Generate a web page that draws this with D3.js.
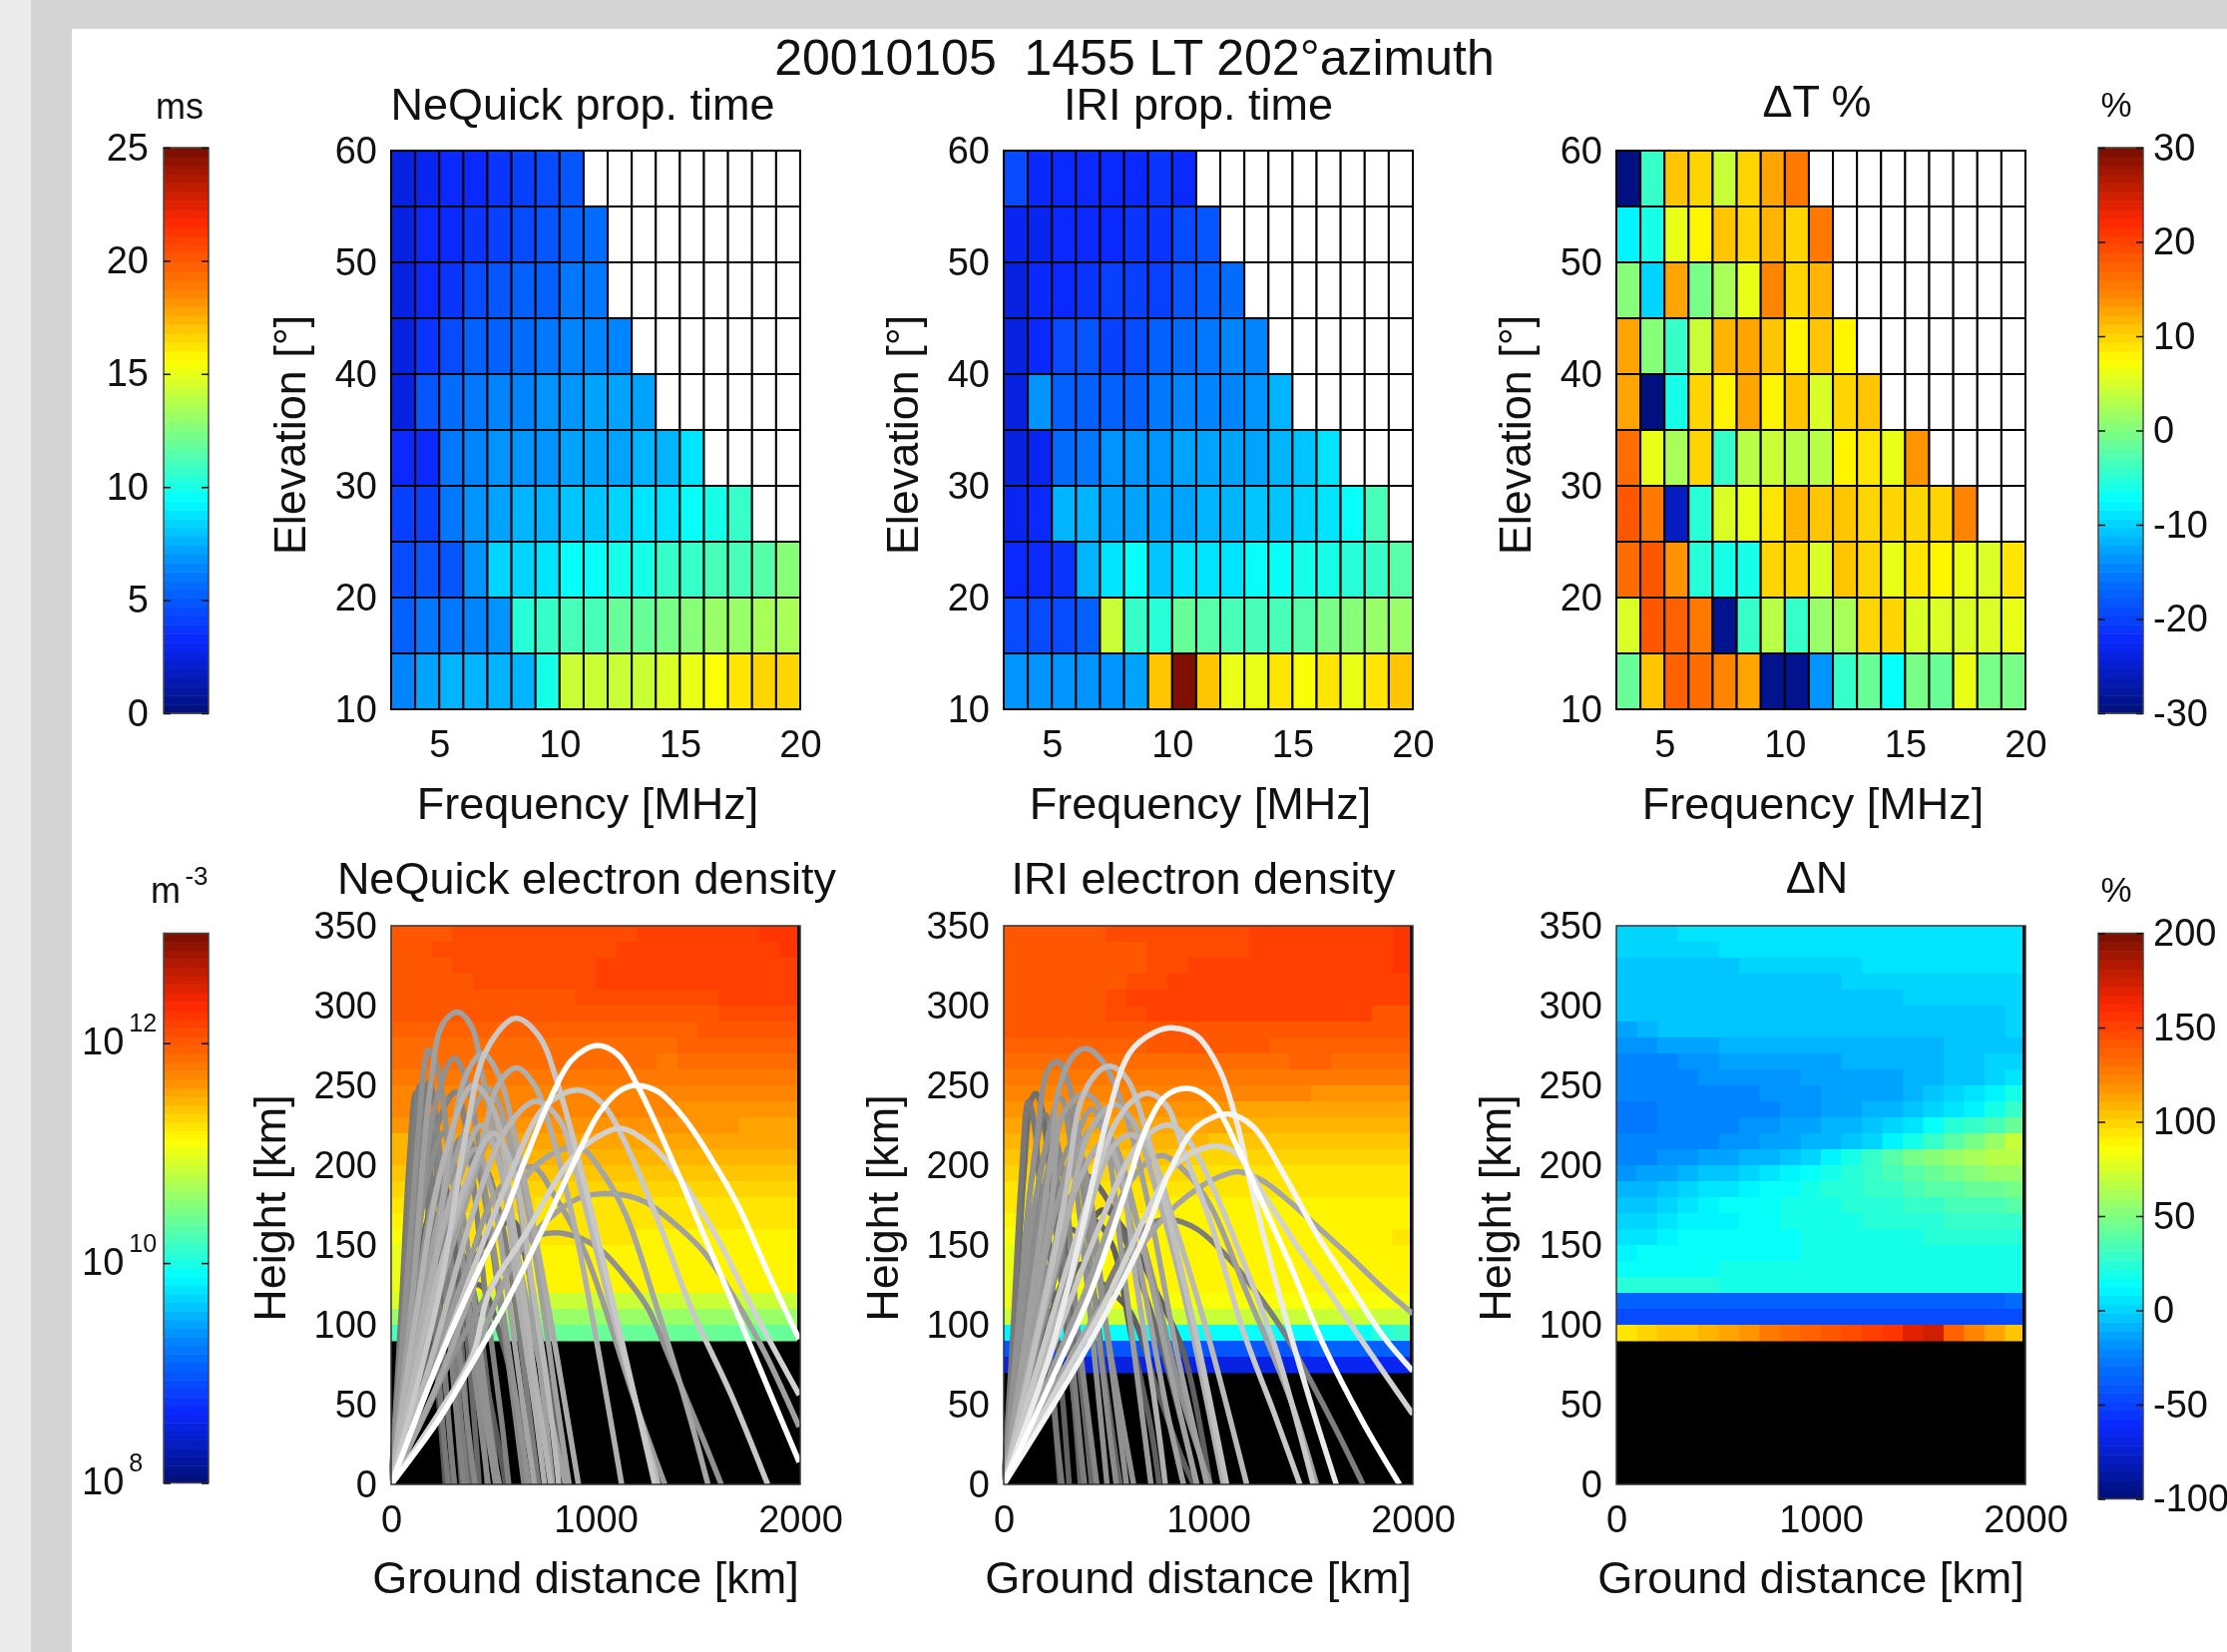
<!DOCTYPE html>
<html>
<head>
<meta charset="utf-8">
<script src="https://d3js.org/d3.v7.min.js"></script>
<style>
  html, body { margin: 0; padding: 0; background: #fff; }
  svg { display: block; filter: blur(0.6px); }
  text { font-family: "Liberation Sans", Arial, sans-serif; fill: #111; }
  .domain { display: none; }
  .tick line { stroke: #111; stroke-width: 1.5; }
</style>
</head>
<body>
<div id="chart"></div>
<script>
// Axes
var freqTicks = [5, 10, 15, 20];
var elevTicks = [10, 20, 30, 40, 50, 60];
var distTicks = [0, 1000, 2000];
var heightTicks = [0, 50, 100, 150, 200, 250, 300, 350];
var freqEdges = [3, 20];
var elevEdges = [10, 60];

// Propagation time [ms], one row per 5 deg elevation from 60 down to 10, one cell per MHz from 3
var nqTime = [
  [2.6, 2.9, 3.3, 3.3, 3.7, 4.0, 4.3, 4.8],
  [2.7, 3.2, 3.5, 3.9, 4.2, 4.5, 4.8, 5.4, 5.7],
  [2.6, 3.4, 3.9, 4.5, 4.8, 5.1, 5.4, 5.9, 6.0],
  [2.7, 3.9, 4.5, 5.1, 5.4, 5.7, 6.0, 6.3, 6.4, 6.5],
  [2.7, 4.7, 5.7, 5.9, 6.3, 6.5, 6.7, 6.9, 7.1, 7.2, 7.4],
  [3.4, 3.5, 6.0, 6.5, 6.7, 6.9, 6.9, 7.1, 7.2, 7.4, 7.6, 7.8, 8.6],
  [4.1, 4.1, 6.1, 7.0, 7.3, 7.6, 7.8, 8.0, 8.2, 8.4, 8.6, 8.8, 9.4, 9.9, 10.9],
  [4.6, 4.7, 4.8, 7.0, 8.5, 8.4, 8.7, 9.4, 9.4, 9.8, 10.1, 10.6, 10.8, 11.0, 11.1, 11.7, 12.5],
  [5.1, 6.0, 6.0, 6.3, 6.9, 10.4, 10.9, 11.2, 11.3, 11.8, 12.0, 12.2, 12.7, 13.0, 13.2, 13.4, 13.6],
  [6.3, 7.2, 7.6, 7.8, 7.8, 7.6, 9.9, 14.2, 14.2, 14.4, 14.4, 14.6, 14.9, 15.6, 16.3, 16.5, 16.5]
];
var iriTime = [
  [4.3, 3.2, 3.2, 3.3, 3.5, 3.5, 3.6, 3.5],
  [2.8, 3.1, 3.2, 3.4, 3.5, 3.7, 3.7, 4.5, 4.7],
  [2.4, 3.3, 3.2, 3.9, 4.2, 4.2, 4.1, 4.9, 5.1, 5.7],
  [2.4, 3.5, 4.5, 4.8, 4.2, 4.5, 5.1, 5.7, 6.0, 6.3, 6.5],
  [2.7, 6.7, 5.4, 5.4, 5.4, 5.4, 6.0, 6.3, 6.5, 6.5, 6.7, 7.6],
  [2.7, 3.1, 5.7, 6.0, 6.7, 6.7, 6.9, 7.1, 7.1, 7.2, 7.4, 7.8, 8.0, 8.8],
  [3.1, 3.2, 7.7, 7.7, 7.1, 7.2, 7.2, 7.2, 7.6, 7.8, 8.0, 8.2, 8.4, 8.6, 9.4, 11.2],
  [3.5, 3.5, 3.8, 7.7, 8.8, 9.4, 8.2, 8.6, 8.8, 8.8, 9.4, 9.7, 9.9, 10.1, 10.4, 10.9, 11.5],
  [4.5, 4.5, 4.5, 5.1, 14.2, 10.9, 10.4, 11.8, 11.5, 11.2, 11.1, 11.3, 11.6, 12.2, 12.6, 13.0, 13.0],
  [6.7, 6.7, 6.7, 6.9, 6.9, 7.1, 16.8, 25.0, 17.0, 14.9, 14.9, 16.3, 15.6, 16.3, 14.9, 16.3, 16.8]
];
var deltaTime = [
  [-30, -3.8, 11.2, 9.6, 4.2, 9.6, 12.5, 15],
  [-8, -6.5, 6, 7.5, 10.8, 9.6, 11.7, 10, 15],
  [0.9, -9.5, 12.5, -0.5, 2, 6, 14.5, 10, 12],
  [12.5, 0.2, -3.8, 4.2, 12, 12.5, 10.8, 7.5, 10.8, 7.5],
  [12.5, -30, -6.5, 9.6, 7.5, 12.5, 7.5, 11.2, 5, 9.6, 10.8],
  [16, 6.5, 2, 9.6, -3.8, 3.5, 4.2, 3, 3, 7.5, 9.3, 6.5, 13.5],
  [18, 15, -26, -5.3, 5.5, 6, 9.2, 11.7, 11.2, 11.2, 9.6, 9.6, 9.6, 9.6, 14.5],
  [16, 18, 13.5, -5, -6.5, -6.5, 9.6, 10, 5.5, 10.8, 10, 6, 9.3, 7.5, 6, 5.5, 8.5],
  [5, 18.5, 17, 15, -29, -3.8, 3.5, -3.8, 1, 2, 9.6, 10, 5.5, 5.5, 5.5, 5.5, 6.5],
  [-1, 11.2, 17, 16, 14.5, 12.5, -29, -29, -13.5, -3.8, -1.5, -7.5, -0.5, -1, 6.5, -0.5, -0.5]
];

// log10 electron density, one row per 10 km from 350 down, one cell per 100 km.
// Rows stop at the lowest height with data, the rest of the panel is black.
var nqDensity = [
  [12.02,12.02,12.02,12.10,12.10,12.10,12.10,12.10,12.10,12.10,12.10,12.10,12.18,12.18,12.18,12.18,12.18,12.18,12.25,12.25],
  [12.02,12.02,12.10,12.10,12.10,12.10,12.10,12.10,12.10,12.10,12.10,12.18,12.18,12.18,12.18,12.18,12.18,12.18,12.18,12.25],
  [12.02,12.02,12.02,12.10,12.10,12.10,12.10,12.10,12.10,12.10,12.18,12.18,12.18,12.18,12.18,12.18,12.18,12.18,12.18,12.18],
  [12.02,12.02,12.02,12.02,12.10,12.10,12.10,12.10,12.10,12.10,12.18,12.18,12.18,12.18,12.18,12.18,12.18,12.18,12.18,12.18],
  [12.02,12.02,12.02,12.02,12.02,12.02,12.02,12.02,12.02,12.10,12.10,12.10,12.10,12.10,12.10,12.10,12.18,12.18,12.18,12.18],
  [12.02,12.02,12.02,12.02,12.02,12.02,12.02,12.02,12.02,12.02,12.02,12.02,12.02,12.02,12.02,12.02,12.10,12.10,12.10,12.10],
  [11.95,11.95,11.95,11.95,11.95,11.95,11.95,11.95,11.95,11.95,11.95,11.95,11.95,11.95,11.95,12.02,12.02,12.02,12.02,12.02],
  [11.87,11.87,11.87,11.87,11.87,11.87,11.87,11.87,11.87,11.87,11.87,11.87,11.87,11.87,11.95,11.95,11.95,11.95,11.95,11.95],
  [11.87,11.87,11.87,11.87,11.87,11.87,11.87,11.87,11.87,11.87,11.87,11.87,11.87,11.79,11.87,11.87,11.87,11.87,11.87,11.87],
  [11.79,11.79,11.79,11.79,11.79,11.79,11.79,11.79,11.79,11.79,11.79,11.79,11.79,11.79,11.79,11.79,11.79,11.79,11.79,11.79],
  [11.71,11.71,11.71,11.71,11.71,11.71,11.71,11.71,11.71,11.71,11.71,11.71,11.71,11.71,11.71,11.71,11.71,11.71,11.71,11.71],
  [11.71,11.71,11.71,11.71,11.71,11.71,11.71,11.71,11.71,11.71,11.71,11.71,11.71,11.71,11.63,11.63,11.63,11.63,11.63,11.63],
  [11.63,11.63,11.63,11.63,11.63,11.63,11.63,11.63,11.63,11.63,11.63,11.63,11.63,11.63,11.63,11.63,11.63,11.55,11.55,11.55],
  [11.48,11.55,11.55,11.55,11.55,11.55,11.55,11.55,11.55,11.55,11.55,11.55,11.55,11.55,11.55,11.55,11.55,11.55,11.55,11.55],
  [11.48,11.48,11.48,11.48,11.48,11.48,11.48,11.48,11.48,11.48,11.48,11.48,11.48,11.48,11.48,11.48,11.48,11.48,11.48,11.48],
  [11.40,11.40,11.40,11.40,11.40,11.40,11.40,11.40,11.40,11.40,11.40,11.40,11.40,11.40,11.40,11.40,11.40,11.40,11.40,11.40],
  [11.32,11.32,11.32,11.32,11.32,11.32,11.32,11.32,11.32,11.32,11.32,11.32,11.32,11.32,11.32,11.32,11.32,11.32,11.32,11.32],
  [11.24,11.24,11.32,11.32,11.32,11.32,11.32,11.24,11.24,11.24,11.24,11.24,11.24,11.24,11.24,11.24,11.24,11.24,11.24,11.24],
  [11.16,11.24,11.24,11.24,11.24,11.24,11.24,11.24,11.24,11.24,11.24,11.24,11.24,11.24,11.24,11.24,11.24,11.24,11.24,11.24],
  [11.09,11.16,11.24,11.24,11.24,11.24,11.24,11.24,11.24,11.24,11.24,11.24,11.16,11.16,11.16,11.16,11.16,11.16,11.16,11.16],
  [11.01,11.09,11.16,11.16,11.16,11.16,11.16,11.16,11.16,11.16,11.16,11.16,11.16,11.16,11.16,11.16,11.16,11.16,11.16,11.16],
  [11.01,11.09,11.16,11.16,11.16,11.16,11.16,11.16,11.16,11.16,11.16,11.16,11.16,11.16,11.16,11.16,11.16,11.16,11.16,11.16],
  [11.01,11.09,11.09,11.16,11.16,11.16,11.16,11.16,11.16,11.16,11.16,11.16,11.16,11.16,11.16,11.16,11.16,11.16,11.16,11.16],
  [10.93,10.93,10.93,10.85,10.85,10.85,10.85,10.85,10.85,10.85,10.85,10.85,10.85,10.85,10.85,10.85,10.85,10.85,10.85,10.85],
  [10.62,10.62,10.62,10.62,10.62,10.62,10.62,10.62,10.62,10.62,10.62,10.62,10.62,10.62,10.62,10.62,10.62,10.62,10.62,10.62],
  [10.23,10.38,10.38,10.38,10.38,10.38,10.38,10.38,10.38,10.38,10.38,10.38,10.38,10.38,10.38,10.38,10.38,10.38,10.38,10.38]
];
var iriDensity = [
  [12.02,12.02,12.02,12.02,12.02,12.10,12.10,12.10,12.10,12.10,12.10,12.10,12.18,12.18,12.18,12.18,12.18,12.18,12.18,12.25],
  [12.02,12.02,12.02,12.02,12.02,12.02,12.02,12.10,12.10,12.10,12.10,12.10,12.18,12.18,12.18,12.18,12.18,12.18,12.18,12.25],
  [12.02,12.02,12.02,12.02,12.02,12.02,12.02,12.10,12.10,12.18,12.18,12.18,12.18,12.18,12.18,12.18,12.18,12.18,12.18,12.25],
  [12.02,12.02,12.02,12.02,12.02,12.02,12.10,12.10,12.18,12.18,12.18,12.18,12.18,12.18,12.18,12.18,12.18,12.18,12.18,12.18],
  [12.02,12.02,12.02,12.02,12.02,12.10,12.18,12.18,12.18,12.18,12.18,12.18,12.18,12.18,12.18,12.18,12.18,12.18,12.18,12.18],
  [12.02,12.02,12.02,12.02,12.02,12.10,12.10,12.18,12.18,12.18,12.18,12.18,12.18,12.18,12.18,12.18,12.18,12.18,12.02,12.02],
  [12.02,12.02,12.02,12.02,12.02,12.02,12.02,12.02,12.02,12.02,12.02,12.02,12.02,12.02,12.02,12.02,12.02,12.02,12.02,12.02],
  [11.95,11.95,11.95,11.95,11.95,11.95,11.95,12.02,12.02,12.02,12.02,12.02,12.02,11.95,11.95,11.95,11.95,11.95,11.95,11.95],
  [11.87,11.87,11.87,11.87,11.87,11.87,11.87,11.87,11.87,11.87,11.87,11.87,11.87,11.87,11.95,11.95,11.87,11.87,11.87,11.87],
  [11.79,11.79,11.79,11.79,11.79,11.79,11.79,11.79,11.79,11.79,11.79,11.79,11.79,11.79,11.79,11.79,11.79,11.79,11.79,11.79],
  [11.71,11.71,11.71,11.71,11.71,11.71,11.71,11.71,11.71,11.71,11.71,11.71,11.71,11.71,11.71,11.63,11.63,11.63,11.63,11.63],
  [11.63,11.63,11.63,11.63,11.63,11.63,11.63,11.63,11.63,11.63,11.63,11.55,11.55,11.55,11.55,11.55,11.55,11.55,11.55,11.55],
  [11.55,11.55,11.55,11.55,11.55,11.55,11.55,11.55,11.55,11.55,11.55,11.48,11.48,11.48,11.48,11.48,11.48,11.48,11.48,11.48],
  [11.48,11.48,11.48,11.48,11.48,11.48,11.48,11.48,11.48,11.48,11.40,11.40,11.40,11.40,11.40,11.40,11.40,11.40,11.40,11.40],
  [11.40,11.40,11.40,11.40,11.40,11.40,11.40,11.40,11.40,11.32,11.32,11.32,11.32,11.32,11.32,11.32,11.32,11.32,11.32,11.32],
  [11.32,11.32,11.32,11.32,11.32,11.32,11.32,11.32,11.32,11.24,11.24,11.24,11.24,11.24,11.24,11.24,11.24,11.24,11.24,11.24],
  [11.24,11.24,11.24,11.24,11.24,11.24,11.24,11.24,11.24,11.24,11.24,11.24,11.24,11.24,11.24,11.24,11.24,11.24,11.24,11.24],
  [11.24,11.24,11.24,11.24,11.24,11.24,11.24,11.24,11.16,11.16,11.16,11.16,11.16,11.16,11.16,11.16,11.16,11.16,11.16,11.16],
  [11.16,11.16,11.16,11.16,11.16,11.16,11.16,11.16,11.16,11.16,11.16,11.16,11.16,11.16,11.16,11.16,11.16,11.16,11.16,11.16],
  [11.09,11.16,11.16,11.16,11.16,11.16,11.16,11.16,11.16,11.16,11.16,11.16,11.16,11.16,11.16,11.16,11.16,11.16,11.16,11.24],
  [11.01,11.09,11.16,11.16,11.16,11.16,11.16,11.16,11.16,11.16,11.16,11.16,11.16,11.16,11.16,11.16,11.16,11.16,11.16,11.16],
  [11.01,11.01,11.09,11.09,11.16,11.16,11.16,11.16,11.16,11.16,11.16,11.16,11.16,11.16,11.16,11.16,11.16,11.16,11.16,11.16],
  [11.01,11.01,11.09,11.09,11.09,11.09,11.16,11.16,11.16,11.16,11.16,11.16,11.16,11.16,11.16,11.16,11.16,11.16,11.16,11.16],
  [11.01,11.01,11.01,11.01,11.09,11.09,11.09,11.09,11.09,11.09,11.09,11.09,11.09,11.09,11.09,11.09,11.09,11.09,11.09,11.09],
  [10.85,10.85,10.85,10.85,10.85,10.85,10.85,10.85,10.85,10.85,10.85,10.85,10.85,10.85,10.85,10.85,10.85,10.85,10.85,10.85],
  [9.84,9.84,9.91,9.91,9.91,9.91,9.91,9.91,9.91,9.91,9.91,9.91,9.91,9.91,9.91,9.91,9.91,9.91,10.05,10.15],
  [8.98,8.98,8.98,8.98,8.98,8.98,8.98,8.98,8.98,8.98,8.98,8.98,8.98,8.98,8.98,9.05,9.05,9.05,9.05,9.05],
  [8.51,8.51,8.51,8.51,8.51,8.51,8.51,8.51,8.51,8.51,8.51,8.51,8.51,8.51,8.59,8.59,8.59,8.59,8.59,8.59]
];
// Difference of the two density fields [%]
var deltaDensity = [
  [1,1,1,5,5,5,5,5,5,5,5,5,5,5,5,5,5,5,5,5],
  [1,1,1,1,1,5,5,5,5,5,5,5,5,5,5,5,5,5,5,5],
  [-4,-4,-4,-4,-4,-4,1,1,1,1,1,1,5,5,5,5,5,5,5,5],
  [-4,-4,-4,-4,-4,-4,-4,-4,-4,-4,-4,1,1,1,1,1,1,1,1,1],
  [-4,-4,-4,-4,-4,-4,-4,-4,-4,-4,-4,-4,-4,-4,1,1,1,1,1,1],
  [-4,-4,-4,-4,-4,-4,-4,-4,-4,-4,-4,-4,-4,-4,-4,-4,-4,-4,-4,1],
  [-13,-9,-4,-4,-4,-4,-4,-4,-4,-4,-4,-4,-4,-4,-4,-4,-4,-4,-4,1],
  [-18,-18,-13,-13,-13,-9,-9,-9,-9,-9,-9,-9,-9,-9,-9,-9,-4,-4,-4,-4],
  [-23,-23,-23,-18,-18,-13,-13,-13,-13,-13,-13,-9,-9,-9,-9,-9,-4,-4,1,1],
  [-23,-23,-23,-23,-18,-18,-18,-18,-18,-13,-13,-13,-13,-13,-9,-9,-4,-4,1,5],
  [-23,-23,-23,-23,-23,-23,-23,-18,-18,-18,-13,-13,-13,-13,-9,-4,1,5,10,20],
  [-27,-27,-23,-23,-23,-23,-23,-23,-18,-18,-13,-13,-9,-9,-4,1,5,10,20,29],
  [-27,-27,-23,-23,-23,-23,-18,-18,-13,-13,-9,-9,-4,1,5,15,24,29,34,43],
  [-23,-23,-23,-23,-23,-18,-18,-13,-13,-9,-9,-4,1,10,20,29,38,48,57,71],
  [-23,-23,-18,-18,-13,-13,-9,-9,-4,1,10,20,29,38,48,52,57,62,66,66],
  [-18,-13,-13,-9,-4,-4,1,5,10,15,20,24,29,34,38,43,48,52,57,57],
  [-9,-9,-4,1,5,5,10,15,15,20,24,24,29,29,34,38,38,43,43,48],
  [-4,-4,1,5,10,15,15,15,20,20,20,24,24,24,29,29,34,34,34,38],
  [1,1,5,10,10,10,15,15,20,20,20,20,24,24,24,24,29,29,29,29],
  [5,5,10,15,15,15,15,15,15,20,20,20,20,20,20,24,24,24,24,24],
  [10,15,15,15,15,15,15,15,15,20,20,20,20,20,20,20,20,20,20,20],
  [15,15,15,15,15,20,20,20,20,20,20,20,20,20,20,20,20,20,20,20],
  [24,24,24,24,24,20,20,20,20,20,20,20,20,20,20,20,20,20,20,20],
  [-37,-37,-37,-37,-37,-37,-37,-37,-37,-37,-37,-37,-37,-37,-37,-37,-37,-37,-37,-32],
  [-46,-46,-46,-46,-46,-46,-46,-46,-46,-46,-46,-46,-46,-46,-46,-46,-46,-46,-46,-46],
  [95,99,104,104,109,113,118,127,132,137,141,146,151,156,170,174,137,123,113,104]
];

// Ray paths, [ground distance km, height km], with the frequency [MHz] of each ray
var nqRayFreq = [3.5, 4, 4, 5, 5, 5.5, 4.5, 4.5, 7, 7, 7.5, 8, 9, 9, 9, 10, 10.5, 10.5, 10.5, 10.5, 11, 11.5, 12, 13, 14.5, 14.5, 15.5, 20, 20,
  6.5, 7, 7.5, 8, 8.5, 9, 11, 12, 13, 12.5, 3.5, 4.5];
var nqRays = [
  [[0,0],[70,70],[115,120],[150,150],[190,120],[235,50],[265,0]],
  [[0,0],[90,85],[140,140],[180,165],[225,130],[270,60],[305,0]],
  [[0,0],[105,90],[170,160],[215,185],[270,130],[315,55],[345,0]],
  [[0,0],[110,95],[190,175],[245,200],[300,150],[360,60],[385,0]],
  [[0,0],[120,90],[210,160],[275,180],[335,135],[400,50],[430,0]],
  [[0,0],[120,75],[230,135],[300,160],[370,120],[440,45],[470,0]],
  [[0,0],[130,65],[260,120],[340,145],[420,110],[490,40],[520,0]],
  [[0,0],[150,65],[350,130],[592,165],[660,140],[760,70],[870,0]],
  [[0,0],[60,110],[130,215],[187,252],[240,200],[300,100],[370,0]],
  [[0,0],[130,85],[300,165],[446,199],[530,170],[620,100],[690,30],[720,0]],
  [[0,0],[90,120],[200,215],[316,246],[380,210],[460,120],[540,40],[575,0]],
  [[0,0],[110,100],[240,190],[365,219],[440,190],[520,125],[600,50],[650,0]],
  [[0,0],[73,120],[130,215],[165,265],[183,272],[227,261],[284,207],[397,96],[511,0]],
  [[0,0],[105,120],[219,239],[308,267],[373,251],[462,182],[576,83],[673,0]],
  [[0,0],[170,45],[340,90],[624,148],[722,156],[852,157],[1014,148],[1176,125],[1257,110],[1371,76],[1533,26],[1614,0]],
  [[0,0],[190,70],[370,135],[527,185],[689,199],[803,180],[949,145],[1208,46],[1338,0]],
  [[0,0],[105,120],[187,244],[251,288],[324,296],[397,286],[446,256],[543,195],[673,108],[852,0]],
  [[0,0],[130,100],[300,200],[478,248],[560,225],[640,165],[740,60],[790,0]],
  [[0,0],[170,90],[350,170],[527,227],[620,200],[720,130],[800,60],[870,0]],
  [[0,0],[220,40],[430,90],[624,145],[803,170],[933,180],[1095,182],[1241,177],[1371,165],[1533,145],[1663,120],[1825,83],[1995,36]],
  [[0,0],[250,70],[450,140],[641,190],[787,207],[925,211],[1014,199],[1144,170],[1289,115],[1452,46],[1549,0]],
  [[0,0],[154,83],[284,207],[365,256],[446,270],[527,256],[624,207],[738,133],[916,0]],
  [[0,0],[203,120],[430,207],[527,251],[616,261],[706,249],[787,219],[916,150],[1127,0]],
  [[0,0],[200,80],[400,170],[560,222],[706,240],[819,229],[916,190],[1079,108],[1306,0]],
  [[0,0],[235,120],[365,219],[462,271],[608,292],[722,281],[819,249],[933,195],[1095,108],[1289,0]],
  [[0,0],[316,106],[560,187],[754,237],[916,247],[1030,239],[1144,214],[1306,165],[1468,110],[1663,56],[1841,0]],
  [[0,0],[235,45],[397,80],[478,120],[657,157],[852,199],[965,214],[1119,223],[1257,214],[1371,199],[1500,175],[1614,150],[1776,108],[1995,56]],
  [[0,0],[235,78],[430,135],[543,165],[657,204],[787,244],[884,266],[1006,275],[1111,269],[1208,249],[1371,204],[1533,155],[1695,106],[1857,56],[1995,14]],
  [[0,0],[235,41],[397,76],[560,113],[722,155],[884,199],[1014,232],[1111,246],[1192,250],[1306,246],[1435,229],[1565,204],[1695,175],[1841,133],[1995,91]],
  [[0,0],[50,110],[90,205],[120,245],[150,225],[200,130],[250,40],[280,0]],
  [[0,0],[60,115],[105,205],[140,250],[175,225],[225,130],[280,40],[310,0]],
  [[0,0],[75,115],[125,195],[165,235],[205,215],[265,120],[330,30],[355,0]],
  [[0,0],[85,110],[140,185],[210,225],[255,190],[320,100],[390,20],[410,0]],
  [[0,0],[95,110],[175,190],[255,220],[310,185],[380,100],[450,25],[475,0]],
  [[0,0],[100,95],[200,175],[290,205],[350,170],[430,90],[500,20],[530,0]],
  [[0,0],[130,90],[280,170],[410,210],[490,185],[580,110],[650,45],[700,0]],
  [[0,0],[170,115],[330,195],[440,225],[520,205],[620,120],[700,50],[750,0]],
  [[0,0],[200,115],[370,190],[500,220],[590,200],[690,125],[770,55],[820,0]],
  [[0,0],[120,105],[250,200],[400,250],[500,235],[600,160],[700,70],[780,0]],
  [[0,0],[100,60],[210,110],[320,130],[400,105],[480,55],[540,15],[560,0]],
  [[0,0],[130,55],[290,110],[430,125],[530,95],[620,50],[700,10],[720,0]]
];
var iriRayFreq = [4, 4.3, 4.6, 5, 5, 4, 4, 5.5, 7, 9, 9, 9, 10.5, 10.5, 10.5, 10.5, 11, 12, 13, 13.7, 14.5, 14.5, 15.5, 18, 19, 20,
  6.5, 7, 8, 8.5, 9, 10, 12, 4, 4.5];
var iriRays = [
  [[0,0],[60,80],[110,140],[150,160],[200,100],[250,40],[275,0]],
  [[0,0],[80,90],[140,160],[190,180],[240,120],[290,50],[320,0]],
  [[0,0],[90,80],[170,160],[230,190],[290,130],[345,50],[375,0]],
  [[0,0],[100,80],[190,150],[265,175],[320,125],[390,50],[430,0]],
  [[0,0],[90,60],[230,140],[310,175],[408,193],[489,182],[619,145],[749,96],[846,51],[944,0]],
  [[0,0],[110,50],[250,110],[392,157],[489,172],[603,157],[749,120],[879,83],[1009,0]],
  [[0,0],[100,45],[210,90],[310,120],[375,138],[489,125],[619,108],[749,60],[879,14],[930,0]],
  [[0,0],[50,95],[99,195],[132,240],[156,245],[180,239],[245,170],[327,71],[392,0]],
  [[0,0],[190,45],[400,95],[587,145],[700,162],[814,166],[944,160],[1090,143],[1236,120],[1366,96],[1496,66],[1626,34],[1756,0]],
  [[0,0],[60,85],[130,185],[164,219],[213,259],[262,265],[318,251],[392,195],[489,108],[635,0]],
  [[0,0],[70,90],[150,175],[278,242],[340,200],[420,110],[505,0]],
  [[0,0],[120,65],[270,140],[375,195],[473,209],[554,199],[684,150],[879,51],[1009,0]],
  [[0,0],[180,55],[380,115],[619,190],[765,206],[879,197],[1009,175],[1188,120],[1399,54],[1529,0]],
  [[0,0],[110,95],[240,215],[262,244],[343,269],[408,273],[489,264],[603,229],[716,170],[846,83],[993,0]],
  [[0,0],[110,90],[230,170],[278,229],[343,241],[392,245],[457,239],[538,207],[652,145],[798,46],[879,0]],
  [[0,0],[110,70],[250,150],[359,209],[457,225],[538,214],[652,165],[814,71],[944,0]],
  [[0,0],[200,50],[420,100],[781,167],[944,185],[1041,192],[1147,196],[1269,190],[1399,177],[1529,162],[1691,143],[1854,123],[2000,107]],
  [[0,0],[130,75],[290,155],[424,222],[538,238],[635,227],[733,190],[879,120],[1074,0]],
  [[0,0],[150,60],[330,130],[522,209],[619,219],[700,212],[830,165],[993,96],[1188,0]],
  [[0,0],[150,85],[300,180],[375,239],[457,258],[522,262],[603,254],[684,227],[781,180],[928,101],[1090,0]],
  [[0,0],[180,80],[380,165],[538,224],[635,241],[708,245],[798,237],[879,209],[1009,165],[1171,96],[1318,46],[1448,0]],
  [[0,0],[210,75],[430,150],[635,209],[733,222],[814,225],[895,217],[1009,190],[1155,145],[1334,83],[1513,0]],
  [[0,0],[260,60],[480,110],[830,199],[944,209],[1041,212],[1139,207],[1269,182],[1431,150],[1594,120],[1789,83],[2000,44]],
  [[0,0],[229,83],[392,165],[505,229],[619,271],[733,283],[830,286],[944,281],[1058,259],[1139,227],[1204,190],[1334,125],[1496,53],[1626,0]],
  [[0,0],[262,54],[473,101],[668,150],[814,197],[944,224],[1098,232],[1220,224],[1366,195],[1529,157],[1691,125],[1854,93],[2000,71]],
  [[0,0],[262,73],[424,120],[587,180],[700,224],[798,244],[911,248],[1025,239],[1139,212],[1269,175],[1399,138],[1561,88],[1756,39],[1935,0]],
  [[0,0],[45,95],[85,190],[120,240],[150,225],[200,130],[260,30],[285,0]],
  [[0,0],[70,100],[135,190],[200,232],[245,210],[300,130],[370,30],[395,0]],
  [[0,0],[85,100],[165,185],[240,220],[295,190],[360,100],[440,15],[455,0]],
  [[0,0],[100,100],[195,185],[310,235],[370,200],[440,120],[520,30],[550,0]],
  [[0,0],[120,100],[230,180],[345,215],[410,190],[490,110],[570,30],[600,0]],
  [[0,0],[140,100],[270,180],[430,235],[500,215],[580,140],[670,50],[720,0]],
  [[0,0],[170,100],[320,175],[490,215],[560,200],[650,125],[740,50],[790,0]],
  [[0,0],[130,60],[280,125],[440,165],[530,150],[620,95],[720,35],[760,0]],
  [[0,0],[110,60],[230,120],[330,160],[410,140],[490,70],[550,15],[570,0]]
];

// Colour bars
var timeBarTicks = [0, 5, 10, 15, 20, 25];
var deltaTimeTicks = [-30, -20, -10, 0, 10, 20, 30];
var densityBarTicks = [8, 10, 12];
var deltaDensityTicks = [-100, -50, 0, 50, 100, 150, 200];

var jetStops = ["#00107f", "#0a28ff", "#0080ff", "#00ffff", "#80ff80", "#ffff00", "#ff8000", "#ff2800", "#7f1000"];
var jetLevels = d3.quantize(d3.piecewise(d3.interpolateRgb, jetStops), 64);

var svg = d3.select("#chart").append("svg")
    .attr("width", 2232)
    .attr("height", 1656);

// Page background
svg.append("rect").attr("width", 2232).attr("height", 1656).attr("fill", "#fff");
svg.append("rect").attr("x", 31).attr("width", 2201).attr("height", 29).attr("fill", "#d4d4d4");
svg.append("rect").attr("x", 31).attr("width", 41).attr("height", 1656).attr("fill", "#d4d4d4");
svg.append("rect").attr("width", 31).attr("height", 1656).attr("fill", "#ebebeb");

var label = function(text, x, y, size, rotate) {
  var t = svg.append("text")
      .attr("text-anchor", "middle")
      .attr("font-size", size)
      .text(text);
  if(rotate) {
    t.attr("transform", "translate(" + x + "," + y + ") rotate(-90)");
  }
  else {
    t.attr("x", x).attr("y", y);
  }
  return t;
};

/**
 * Styles the tick labels of an axis.
 */
var styleTicks = function(g) {
  g.selectAll("text").attr("font-size", 38).attr("fill", "#111");
};

/**
 * Draws a frequency / elevation panel of colored cells.
 *
 * @param left  left edge of the panel
 * @param rows  matrix of values, top row first
 * @param color color scale
 */
var drawGridPanel = function(left, rows, color) {
  var top = 151, width = 410, height = 560;
  var x = d3.scaleLinear().domain(freqEdges).range([left, left + width]);
  var y = d3.scaleLinear().domain(elevEdges).range([top + height, top]);
  var g = svg.append("g");

  var cellRows = g.selectAll("g").data(d3.range(10)).enter().append("g");
  cellRows.selectAll("rect")
      .data(function(r) {
        return d3.range(17).map(function(c) {
          return {'r': r, 'c': c, 'value': rows[r][c]};
        });
      })
      .enter()
      .append("rect")
      .attr("x", function(d) { return x(3 + d.c); })
      .attr("y", function(d) { return y(60 - d.r * 5); })
      .attr("width", x(1) - x(0))
      .attr("height", y(0) - y(5))
      .attr("fill", function(d) { return d.value === undefined ? "#fff" : color(d.value); })
      .attr("stroke", "#000")
      .attr("stroke-width", 2);

  svg.append("g")
      .attr("transform", "translate(" + left + ",0)")
      .call(d3.axisLeft(y).tickValues(elevTicks).tickSize(0).tickPadding(14))
      .call(styleTicks);
  svg.append("g")
      .attr("transform", "translate(0," + (top + height) + ")")
      .call(d3.axisBottom(x).tickValues(freqTicks).tickSize(0).tickPadding(21))
      .call(styleTicks);
};

/**
 * Draws a distance / height panel with optional ray paths.
 *
 * @param left  left edge of the panel
 * @param rows  matrix of values per 10 km, top row first
 * @param color color scale
 * @param rays  ray paths, can be undefined
 * @param freqs frequency of each ray
 */
var drawHeightPanel = function(left, rows, color, rays, freqs) {
  var top = 928, width = 410, height = 560;
  var x = d3.scaleLinear().domain([0, 2000]).range([left, left + width]);
  var y = d3.scaleLinear().domain([0, 350]).range([top + height, top]);
  var clipId = "clip" + left;
  var heatId = "heat" + left;

  var defs = svg.append("defs");
  defs.append("clipPath").attr("id", clipId)
    .append("rect").attr("x", left - 2).attr("y", top).attr("width", width + 4).attr("height", height);
  defs.append("clipPath").attr("id", heatId)
    .append("rect").attr("x", left).attr("y", top).attr("width", width - 3).attr("height", height);

  svg.append("rect")
      .attr("x", left).attr("y", top)
      .attr("width", width).attr("height", height)
      .attr("fill", "#000");

  var heat = svg.append("g").attr("clip-path", "url(#" + heatId + ")");
  rows.forEach(function(row, r) {
    heat.append("g").selectAll("rect")
        .data(row)
        .enter()
        .append("rect")
        .attr("x", function(d, c) { return x(c * 100); })
        .attr("y", y(350 - r * 10))
        .attr("width", x(100) - x(0) + 0.5)
        .attr("height", y(0) - y(10) + 0.5)
        .attr("fill", function(d) { return color(d); });
  });

  if(rays) {
    var grey = d3.scaleLinear().domain([3, 20]).range(["#555", "#fff"]);
    var line = d3.line()
        .x(function(d) { return x(d[0]); })
        .y(function(d) { return y(d[1]); })
        .curve(d3.curveCatmullRom);
    // Low frequencies first so that the white rays stay on top
    var order = d3.range(rays.length).sort(function(a, b) { return d3.ascending(freqs[a], freqs[b]); });
    svg.append("g").attr("clip-path", "url(#" + clipId + ")")
      .selectAll("path")
        .data(order)
        .enter()
        .append("path")
        .attr("d", function(i) { return line(rays[i]); })
        .attr("fill", "none")
        .attr("stroke", function(i) { return grey(freqs[i]); })
        .attr("stroke-width", 5.5)
        .attr("stroke-linejoin", "round");
  }

  svg.append("rect")
      .attr("x", left).attr("y", top)
      .attr("width", width).attr("height", height)
      .attr("fill", "none")
      .attr("stroke", "#333")
      .attr("stroke-width", 1.5);

  svg.append("g")
      .attr("transform", "translate(" + left + ",0)")
      .call(d3.axisLeft(y).tickValues(heightTicks).tickSize(0).tickPadding(14))
      .call(styleTicks);
  svg.append("g")
      .attr("transform", "translate(0," + (top + height) + ")")
      .call(d3.axisBottom(x).tickValues(distTicks).tickSize(0).tickPadding(21).tickFormat(String))
      .call(styleTicks);
};

/**
 * Draws a banded color bar with ticks on both sides.
 *
 * @param labelsLeft true when the tick labels are on the left side
 * @param powers     true when the labels are powers of ten
 */
var drawColorBar = function(left, top, bottom, domain, ticks, labelsLeft, powers) {
  var width = 45;
  var y = d3.scaleLinear().domain(domain).range([bottom, top]);
  var span = domain[1] - domain[0];

  svg.append("g").selectAll("rect")
      .data(jetLevels)
      .enter()
      .append("rect")
      .attr("x", left)
      .attr("y", function(d, i) { return y(domain[0] + (i + 1) * span / 64); })
      .attr("width", width)
      .attr("height", (bottom - top) / 64 + 0.5)
      .attr("fill", function(d) { return d; });

  svg.append("rect")
      .attr("x", left).attr("y", top)
      .attr("width", width).attr("height", bottom - top)
      .attr("fill", "none")
      .attr("stroke", "#444")
      .attr("stroke-width", 1.5);

  var leftAxis = d3.axisLeft(y).tickValues(ticks).tickSize(-7).tickPadding(15).tickFormat(labelsLeft ? String : "");
  var rightAxis = d3.axisRight(y).tickValues(ticks).tickSize(-7).tickPadding(10).tickFormat(labelsLeft ? "" : String);
  var leftGroup = svg.append("g").attr("transform", "translate(" + left + ",0)").call(leftAxis).call(styleTicks);
  svg.append("g").attr("transform", "translate(" + (left + width) + ",0)").call(rightAxis).call(styleTicks);

  if(powers) {
    leftGroup.selectAll("text").each(function(d) {
      var t = d3.select(this);
      t.text(null)
          .attr("text-anchor", "start")
          .attr("x", -82)
          .attr("dy", 11);
      t.append("tspan").text("10");
      t.append("tspan").attr("font-size", 25).attr("dx", 5).attr("dy", -23).text(d);
    });
  }
};

var color = function(low, high) {
  return d3.scaleQuantize().domain([low, high]).range(jetLevels);
};

var timeColor = color(0, 25);
var deltaTimeColor = color(-30, 30);
var densityColor = color(8, 13);
var deltaDensityColor = color(-100, 200);

drawGridPanel(392, nqTime, timeColor);
drawGridPanel(1006, iriTime, timeColor);
drawGridPanel(1620, deltaTime, deltaTimeColor);

drawHeightPanel(392, nqDensity, densityColor, nqRays, nqRayFreq);
drawHeightPanel(1006, iriDensity, densityColor, iriRays, iriRayFreq);
drawHeightPanel(1620, deltaDensity, deltaDensityColor);

drawColorBar(164, 148, 715, [0, 25], timeBarTicks, true, false);
drawColorBar(2103, 148, 715, [-30, 30], deltaTimeTicks, false, false);
drawColorBar(2103, 935.5, 1502.5, [-100, 200], deltaDensityTicks, false, false);
drawColorBar(164, 935.5, 1486.5, [8, 13], densityBarTicks, true, true);

// Titles
label("20010105  1455 LT 202°azimuth", 1137, 75, 50).style("white-space", "pre");
label("NeQuick prop. time", 584, 120, 45);
label("IRI prop. time", 1201, 120, 45);
label("ΔT %", 1821, 117, 45);
label("NeQuick electron density", 588, 896, 45);
label("IRI electron density", 1206, 896, 45);
label("ΔN", 1821, 895, 45);

[392, 1006, 1620].forEach(function(left) {
  label("Elevation [°]", left - 86, 436, 45, true);
  label("Frequency [MHz]", left + 197, 821, 45);
  label("Height [km]", left - 106, 1211, 45, true);
  label("Ground distance [km]", left + 195, 1597, 45);
});

// Units over the color bars
label("ms", 180, 119, 36);
label("%", 2121, 117, 35);
label("%", 2121, 904, 35);
label("m", 166, 905, 36);
label("-3", 197, 887, 26);
</script>
</body>
</html>
